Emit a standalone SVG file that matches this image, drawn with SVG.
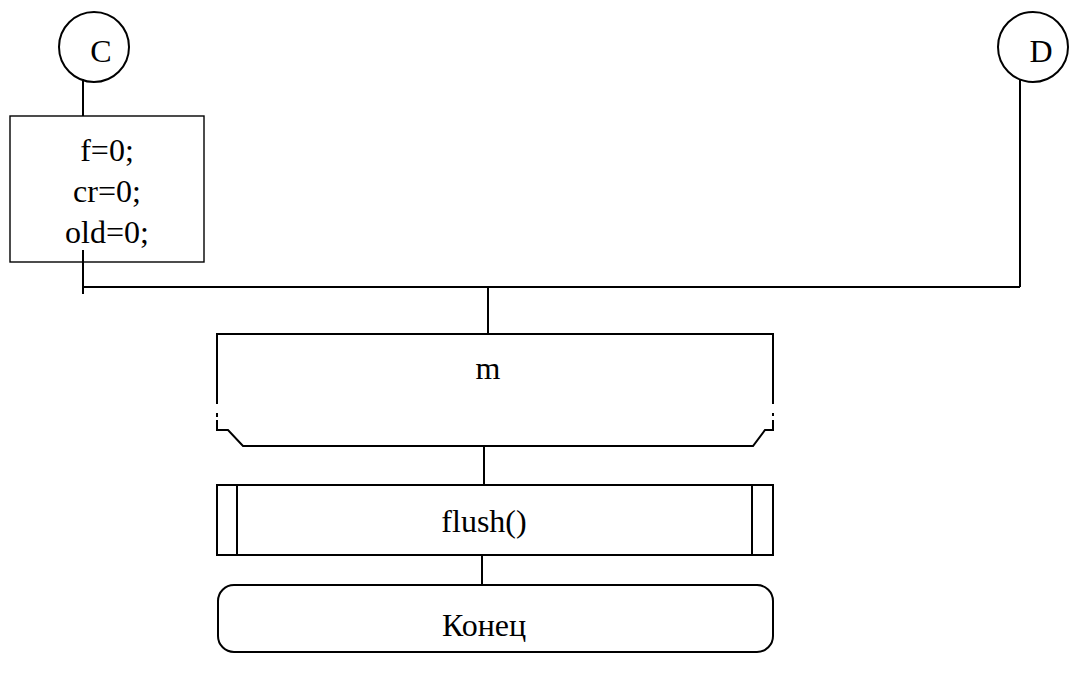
<svg xmlns="http://www.w3.org/2000/svg" width="1080" height="679" viewBox="0 0 1080 679">
  <style>
    .ln { fill: none; stroke: #000; stroke-width: 2; }
    .thin { fill: none; stroke: #000; stroke-width: 1.4; }
    text { font-family: "Liberation Serif", "Times New Roman", serif; font-size: 32px; fill: #000; text-anchor: middle; }
  </style>
  <rect width="1080" height="679" fill="#fff"/>

  <!-- connectors -->
  <g id="connectors" class="ln">
    <line x1="83" y1="79" x2="83" y2="116"/>
    <line x1="83" y1="250" x2="83" y2="294"/>
    <line x1="83" y1="287" x2="1020" y2="287"/>
    <line x1="1020" y1="79" x2="1020" y2="287"/>
    <line x1="488" y1="287" x2="488" y2="334"/>
    <line x1="484" y1="446" x2="484" y2="485"/>
    <line x1="482" y1="555" x2="482" y2="585"/>
  </g>

  <!-- off-page connector C -->
  <g id="conn-C">
    <circle cx="94" cy="47" r="35" class="ln"/>
    <text x="101" y="62">C</text>
  </g>

  <!-- off-page connector D -->
  <g id="conn-D">
    <circle cx="1033" cy="47" r="35" class="ln"/>
    <text x="1041" y="62">D</text>
  </g>

  <!-- initialisation block -->
  <g id="init">
    <rect x="10" y="116" width="194" height="146" class="thin"/>
    <text x="107" y="161">f=0;</text>
    <text x="107" y="202">cr=0;</text>
    <text x="107" y="243">old=0;</text>
  </g>

  <!-- loop end -->
  <g id="loop-m">
    <path class="ln" d="M217 404 V334 H773 V404"/>
    <path class="ln" d="M217 420 V430 H228 L243 446 H753 L765 430 H773 V420"/>
    <line x1="217" y1="413" x2="217" y2="417" class="ln"/>
    <line x1="773" y1="413" x2="773" y2="416" class="ln"/>
    <text x="488" y="379">m</text>
  </g>

  <!-- predefined process -->
  <g id="flush">
    <rect x="217" y="485" width="556" height="70" class="ln"/>
    <line x1="237" y1="485" x2="237" y2="555" class="ln"/>
    <line x1="752" y1="485" x2="752" y2="555" class="ln"/>
    <text x="484" y="532">flush()</text>
  </g>

  <!-- terminator -->
  <g id="end">
    <rect x="218" y="585" width="555" height="67" rx="16" ry="16" class="ln"/>
    <text x="484" y="636">Конец</text>
  </g>
</svg>
